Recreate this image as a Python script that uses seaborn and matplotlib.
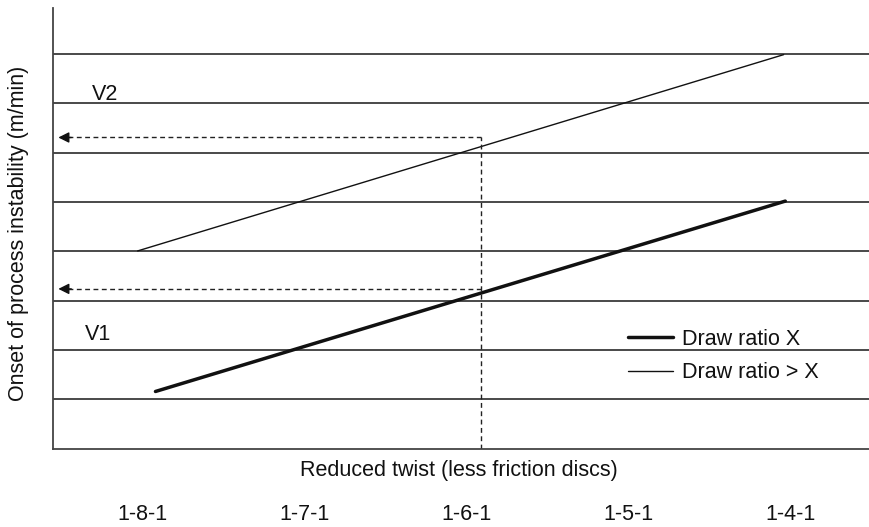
import matplotlib
matplotlib.use("Agg")
import matplotlib.pyplot as plt
from matplotlib.lines import Line2D
import seaborn as sns
import pandas as pd

# ---- data ----
twist_labels = ["1-8-1", "1-7-1", "1-6-1", "1-5-1", "1-4-1"]
twist_pos = [0, 1, 2, 3, 4]
draw_x_twist = [0.08, 3.97]        # "Draw ratio X" (thick line)
draw_x_speed = [1.16, 5.02]
draw_gt_twist = [-0.03, 3.96]      # "Draw ratio > X" (thin line)
draw_gt_speed = [4.01, 7.99]
grid_levels = [1, 2, 3, 4, 5, 6, 7, 8]
marker_twist = 2.09                # dashed vertical read-off position
v1_speed = 3.24                    # dashed read-off levels
v2_speed = 6.31
arrow_tip_twist = -0.52
series_names = ["Draw ratio X", "Draw ratio > X"]

df = pd.DataFrame({
    "twist": draw_x_twist + draw_gt_twist,
    "speed": draw_x_speed + draw_gt_speed,
    "series": [series_names[0]] * 2 + [series_names[1]] * 2,
})

sns.set_style("white")
plt.rcParams["font.family"] = ["Liberation Sans", "DejaVu Sans"]
FS = 15.5

fig = plt.figure(figsize=(8.69, 5.27), dpi=100)
ax = fig.add_axes([0.0606, 0.1486, 0.9394, 0.8357])

sns.lineplot(data=df, x="twist", y="speed", hue="series", size="series",
             palette={series_names[0]: "#111111", series_names[1]: "#111111"},
             sizes={series_names[0]: 2.5, series_names[1]: 1.0},
             legend=False, ax=ax, sort=False)

ax.set_xlim(-0.555, 4.487)
ax.set_ylim(0, 8.93)

# horizontal grid lines
ax.set_yticks(grid_levels)
ax.set_yticklabels([])
ax.yaxis.grid(True, color="#2a2a2a", linewidth=1.2)
ax.tick_params(axis="y", length=0)
ax.set_axisbelow(True)

# spines
for s in ["top", "right"]:
    ax.spines[s].set_visible(False)
for s in ["left", "bottom"]:
    ax.spines[s].set_color("#444444")
    ax.spines[s].set_linewidth(1.3)

# dashed read-off lines
dash = (0, (3.5, 2.5))
ax.plot([marker_twist, marker_twist], [0, v2_speed], color="#222222", lw=1.0, ls=dash)
for lvl in [v1_speed, v2_speed]:
    ax.plot([arrow_tip_twist + 0.06, marker_twist], [lvl, lvl], color="#222222", lw=1.0, ls=dash)
    ax.annotate("", xy=(arrow_tip_twist, lvl), xytext=(arrow_tip_twist + 0.08, lvl),
                arrowprops=dict(arrowstyle="-|>", color="#111111", lw=1.0,
                                mutation_scale=16, shrinkA=0, shrinkB=0))

# V labels
ax.text(-0.31, 7.19, "V2", fontsize=FS, ha="left", va="center", color="#111111")
ax.text(-0.355, 2.32, "V1", fontsize=FS, ha="left", va="center", color="#111111")

# x ticks below the x label
ax.set_xticks(twist_pos)
ax.set_xticklabels(twist_labels, fontsize=FS, color="#111111")
ax.tick_params(axis="x", length=0, pad=40)
ax.set_xlabel("Reduced twist (less friction discs)", fontsize=FS, color="#111111")
ax.xaxis.set_label_coords(0.497, -0.026)
ax.xaxis.label.set_va("top")
ax.set_ylabel("Onset of process instability (m/min)", fontsize=FS, color="#111111")
ax.yaxis.set_label_coords(-0.029, 0.488)

# legend
handles = [Line2D([], [], color="#111111", lw=2.5), Line2D([], [], color="#111111", lw=1.0)]
ax.legend(handles, series_names, loc="upper left", bbox_to_anchor=(0.705, 0.272),
          frameon=False, fontsize=FS, handlelength=2.1, handletextpad=0.4,
          labelspacing=0.58, borderpad=0, borderaxespad=0, labelcolor="#111111")

fig.savefig("out.png", dpi=100)
